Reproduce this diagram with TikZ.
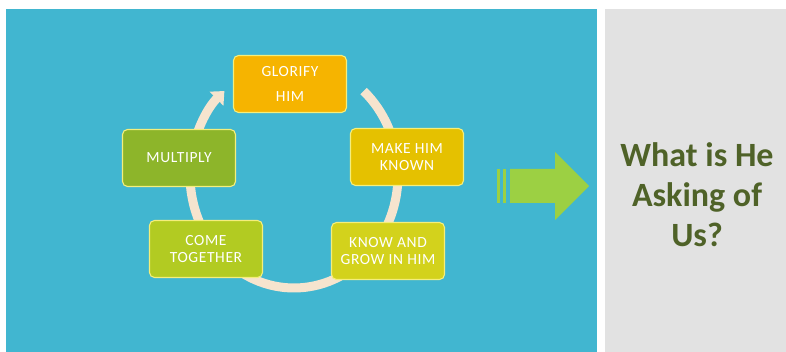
\documentclass[tikz,border=0pt]{standalone}
\usepackage{fontspec}
\setmainfont{Carlito}
\usetikzlibrary{positioning,arrows.meta}

\definecolor{skyblue}{HTML}{41B6D0}
\definecolor{panelgray}{HTML}{E2E2E2}
\definecolor{ringcream}{HTML}{F6E4CE}
\definecolor{boxedge}{HTML}{F4EE7C}
\definecolor{glorifyc}{HTML}{F6B400}
\definecolor{makec}{HTML}{E5C100}
\definecolor{knowc}{HTML}{D3D21C}
\definecolor{comec}{HTML}{B2CB22}
\definecolor{multc}{HTML}{8DB52A}
\definecolor{arrowgreen}{HTML}{9CD043}
\definecolor{askgreen}{HTML}{4F6228}

\begin{document}
\begin{tikzpicture}[x=1pt, y=1pt,
    stage/.style={draw=boxedge, line width=1.1pt, fill=#1, rounded corners=5pt,
      minimum width=113pt, minimum height=57pt, inner sep=0pt, align=center,
      text=white, font=\fontsize{15.5}{17.5}\selectfont\addfontfeature{LetterSpace=4}},
    ring/.style={draw=ringcream, line width=9pt, -{Triangle[width=19pt,length=11pt]}}
  ]
\useasboundingbox (0,0) rectangle (786,352);

% Background panels
\fill[skyblue] (6,0) rectangle (597,343);
\fill[panelgray] (605,0) rectangle (786,343);

% Cycle ring behind the boxes
\coordinate (ringc) at (294,177);
\draw[ring] ([shift={(48:104 and 113)}]ringc) arc[start angle=48, end angle=-228, x radius=104, y radius=113];

% Stages of the cycle
\node[stage=glorifyc, font=\fontsize{15.5}{25}\selectfont\addfontfeature{LetterSpace=4}] (glorify) at (290,268) {GLORIFY\\HIM};
\node[stage=makec] (make) at (407,195) {MAKE HIM\\KNOWN};
\node[stage=knowc] (know) at (388,101) {KNOW AND\\GROW IN HIM};
\node[stage=comec] (come) at (206,103) {COME\\TOGETHER};
\node[stage=multc] (multiply) at (179,194) {MULTIPLY};

% Block arrow pointing to the question
\fill[arrowgreen] (510,149) -- (555,149) -- (555,132) -- (589,166) -- (555,200) -- (555,183) -- (510,183) -- cycle;
\foreach \x in {497,503} {
    \fill[arrowgreen] (\x,149) rectangle ++(3,34);
}

% Question
\node[text=askgreen, font=\bfseries\fontsize{34}{40}\selectfont, align=center] (ask) at (697,157) {What is He\\Asking of\\Us?};

\end{tikzpicture}
\end{document}
